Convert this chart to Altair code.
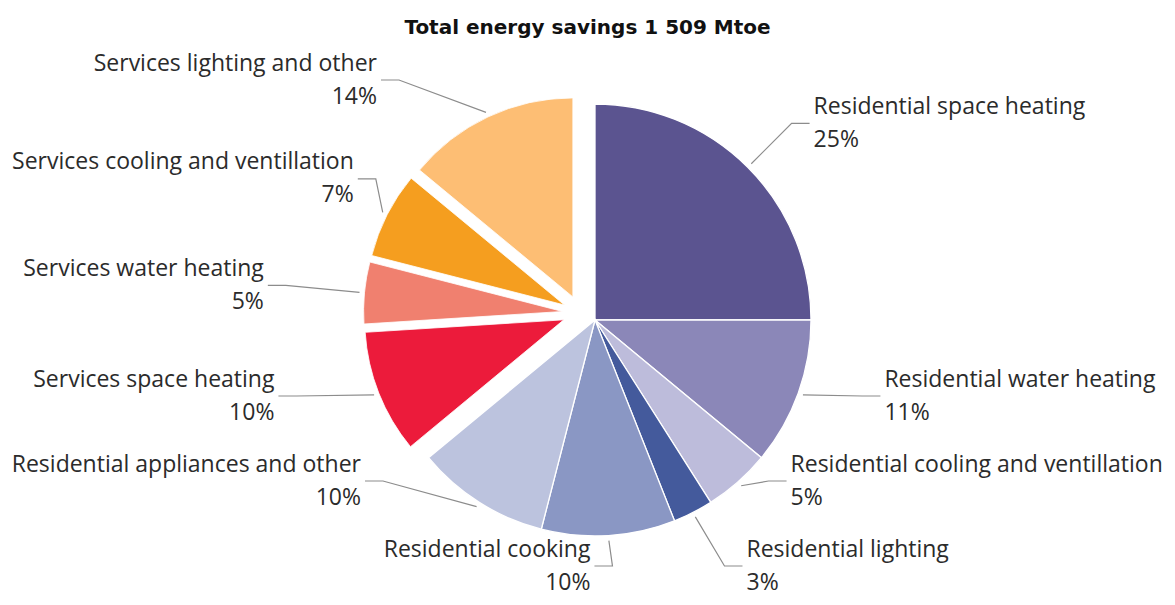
import math
import altair as alt
import pandas as pd

# ---------------- data ----------------
title_text = "Total energy savings 1 509 Mtoe"
categories = [
    "Residential space heating",
    "Residential water heating",
    "Residential cooling and ventillation",
    "Residential lighting",
    "Residential cooking",
    "Residential appliances and other",
    "Services space heating",
    "Services water heating",
    "Services cooling and ventillation",
    "Services lighting and other",
]
shares = [25, 11, 5, 3, 10, 10, 10, 5, 7, 14]
sectors = ["Residential"] * 6 + ["Services"] * 4
colors = ["#5b5490", "#8b87b8", "#bdbcdb", "#445a9c", "#8a97c4",
          "#bcc3de", "#ec1b3b", "#f0806f", "#f59e1f", "#fdbe74"]

# ---------------- layout (page pixel space) ----------------
PAGE_W, PAGE_H = 1175, 605
MARGIN = 8
PAD_TOP = 40
W = PAGE_W - 2 * MARGIN
H = PAGE_H - 2 * MARGIN - PAD_TOP
X_LO, X_HI = MARGIN + 3, MARGIN + W - 3
Y_LO, Y_HI = MARGIN + PAD_TOP, MARGIN + PAD_TOP + H

CX, CY = 595.0, 320.0
R_RES, R_SER = 216.0, 199.0
GROUP_PULL, SLICE_PULL = 16.0, 18.0
LEAD_IN, R_ELBOW = 5.0, 278.0
ARM, TEXT_GAP = 18.0, 4.0
MIN_GAP, Y_MIN, Y_MAX = 85.0, 80.0, 566.0
FONT = "Open Sans"
FONT_SIZE = 23
LINE_H = 33

# approximate Open Sans advance widths (em/1000), used only to keep labels inside the canvas
ADV = {" ": 260, "a": 556, "b": 613, "c": 480, "d": 613, "e": 561, "f": 336, "g": 546,
       "h": 613, "i": 258, "j": 258, "k": 530, "l": 258, "m": 932, "n": 613, "o": 604,
       "p": 613, "q": 613, "r": 409, "s": 478, "t": 352, "u": 613, "v": 500, "w": 775,
       "x": 522, "y": 500, "z": 465, "R": 621, "S": 549}


def text_width(t):
    return sum(ADV.get(ch, 630) for ch in t) / 1000.0 * FONT_SIZE


total = float(sum(shares))
ser_start = sum(v for v, s in zip(shares, sectors) if s == "Residential")
g_mid = (ser_start + total) / 2 / total * 2 * math.pi

slices = []
cum = 0.0
for cat, v, sec in zip(categories, shares, sectors):
    start, end = cum, cum + v
    cum = end
    mid = (start + end) / 2 / total * 2 * math.pi
    if sec == "Services":
        cx = CX + GROUP_PULL * math.sin(g_mid) + SLICE_PULL * math.sin(mid)
        cy = CY - GROUP_PULL * math.cos(g_mid) - SLICE_PULL * math.cos(mid)
        r = R_SER
    else:
        cx, cy, r = CX, CY, R_RES
    s, c = math.sin(mid), math.cos(mid)
    slices.append(dict(
        cat=cat, share=v, sector=sec,
        start=start / total * 100, end=end / total * 100,
        cx=cx, cy=cy, r=r, s=s, c=c,
        sx=cx + (r + LEAD_IN) * s, sy=cy - (r + LEAD_IN) * c,
        ex=cx + R_ELBOW * s, ey=cy - R_ELBOW * c,
        side="right" if s > 0.2 else "left",
        label=f"{cat}\n{v}%",
    ))

# simple label de-overlap per side
for side in ("left", "right"):
    grp = sorted([d for d in slices if d["side"] == side], key=lambda d: d["ey"])
    ys = [d["ey"] for d in grp]
    for i in range(len(ys)):
        lo = Y_MIN if i == 0 else ys[i - 1] + MIN_GAP
        ys[i] = max(ys[i], lo)
    for i in range(len(ys) - 1, -1, -1):
        hi = Y_MAX if i == len(ys) - 1 else ys[i + 1] - MIN_GAP
        ys[i] = min(ys[i], hi)
    for d, y in zip(grp, ys):
        if abs(y - d["ey"]) > 1 and abs(d["s"]) >= 0.35:
            dy = y - d["cy"]
            dx = math.sqrt(max(R_ELBOW * R_ELBOW - dy * dy, 0.0))
            d["ex"] = d["cx"] + (dx if side == "right" else -dx)
        d["ey"] = y
        tw = text_width(d["cat"])
        if side == "right":
            d["ex"] = min(d["ex"], X_HI - ARM - TEXT_GAP - tw)
            d["hx"] = d["ex"] + ARM
            d["tx"] = d["hx"] + TEXT_GAP
        else:
            d["ex"] = max(d["ex"], X_LO + ARM + TEXT_GAP + tw)
            d["hx"] = d["ex"] - ARM
            d["tx"] = d["hx"] - TEXT_GAP

arcs = pd.DataFrame([{k: d[k] for k in ("cat", "share", "sector", "start", "end", "cx", "cy")}
                     for d in slices])
lines = pd.DataFrame(
    [dict(cat=d["cat"], k=0, px=d["sx"], py=d["sy"]) for d in slices]
    + [dict(cat=d["cat"], k=1, px=d["ex"], py=d["ey"]) for d in slices]
    + [dict(cat=d["cat"], k=2, px=d["hx"], py=d["ey"]) for d in slices]
)
labels = pd.DataFrame([{k: d[k] for k in ("cat", "label", "side", "tx", "ey")} for d in slices])

xs = alt.Scale(domain=[MARGIN, MARGIN + W], range=[0, W], nice=False, zero=False)
ys_ = alt.Scale(domain=[Y_LO, Y_HI], range=[0, H], nice=False, zero=False)
theta_scale = alt.Scale(domain=[0, 100], range=[0, 2 * math.pi])
color = alt.Color("cat:N", scale=alt.Scale(domain=categories, range=colors), legend=None)

base_arc = alt.Chart(arcs).encode(
    x=alt.X("cx:Q", scale=xs, axis=None),
    y=alt.Y("cy:Q", scale=ys_, axis=None),
    theta=alt.Theta("start:Q", scale=theta_scale),
    theta2=alt.Theta2("end:Q"),
    color=color,
    tooltip=[alt.Tooltip("cat:N", title="Category"), alt.Tooltip("share:Q", title="Share (%)")],
)
res_arcs = base_arc.transform_filter(alt.datum.sector == "Residential").mark_arc(
    radius=R_RES, stroke="white", strokeWidth=1.3)
ser_arcs = base_arc.transform_filter(alt.datum.sector == "Services").mark_arc(
    radius=R_SER, stroke="white", strokeWidth=0.8)

leaders = alt.Chart(lines).mark_line(color="#8c8c8c", strokeWidth=1.2).encode(
    x=alt.X("px:Q", scale=xs, axis=None),
    y=alt.Y("py:Q", scale=ys_, axis=None),
    detail="cat:N",
    order="k:Q",
)


def label_layer(side, align):
    return alt.Chart(labels).transform_filter(alt.datum.side == side).mark_text(
        align=align, baseline="middle", lineBreak="\n", lineHeight=LINE_H,
        dy=-LINE_H / 2, font=FONT, fontSize=FONT_SIZE, color="#2b2b2b",
    ).encode(
        x=alt.X("tx:Q", scale=xs, axis=None),
        y=alt.Y("ey:Q", scale=ys_, axis=None),
        text="label:N",
    )


chart = alt.layer(
    res_arcs, ser_arcs, leaders, label_layer("right", "left"), label_layer("left", "right")
).properties(
    width=W,
    height=H,
    padding={"top": PAD_TOP, "left": 0, "right": 0, "bottom": 0},
    autosize=alt.AutoSizeParams(type="none"),
    title=alt.TitleParams(
        text=title_text, font="DejaVu Sans", fontSize=20, fontWeight="bold",
        color="#111111", anchor="middle", offset=10,
    ),
).configure_view(stroke=None)

chart.save("out.html", embed_options={"renderer": "svg", "actions": False})
